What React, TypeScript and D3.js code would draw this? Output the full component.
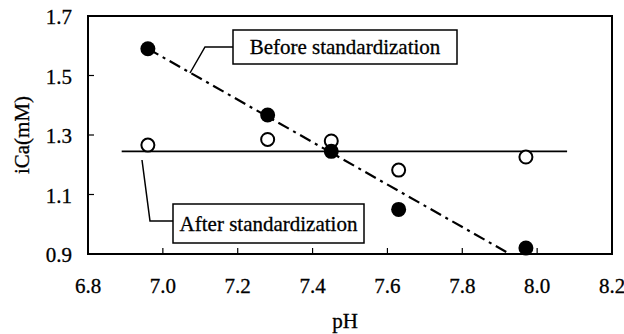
import React, { useEffect, useRef } from 'react';
import * as d3 from 'd3';

const phValues = [6.96, 7.28, 7.45, 7.63, 7.97];
const beforeValues = [1.59, 1.367, 1.245, 1.05, 0.92];
const afterValues = [1.266, 1.285, 1.28, 1.182, 1.226];
const xTicks = [6.8, 7.0, 7.2, 7.4, 7.6, 7.8, 8.0, 8.2];
const yTicks = [0.9, 1.1, 1.3, 1.5, 1.7];
// fitted lines drawn on the chart
const beforeFit = [
  { x: 6.96, y: 1.59 },
  { x: 7.92, y: 0.905 },
];
const afterFit = [
  { x: 6.89, y: 1.245 },
  { x: 8.08, y: 1.245 },
];

const W = 624;
const H = 334;
const margin = { top: 16, right: 12, bottom: 80, left: 88 };
const FONT = '"Liberation Serif", "Times New Roman", serif';
const FS = '21px';

const App: React.FC = () => {
  const svgRef = useRef<SVGSVGElement>(null);

  useEffect(() => {
    if (!svgRef.current) return;
    const svg = d3.select(svgRef.current);
    svg.selectAll('*').remove();

    const x = d3.scaleLinear().domain([6.8, 8.2]).range([margin.left, W - margin.right]);
    const y = d3.scaleLinear().domain([0.9, 1.7]).range([H - margin.bottom, margin.top]);

    const txt = (sel: d3.Selection<SVGTextElement, any, any, any>) =>
      sel
        .style('font-family', FONT)
        .style('font-size', FS)
        .style('fill', '#000')
        .style('stroke', '#000')
        .style('stroke-width', 0.3);

    // frame
    svg
      .append('rect')
      .attr('x', x(6.8))
      .attr('y', y(1.7))
      .attr('width', x(8.2) - x(6.8))
      .attr('height', y(0.9) - y(1.7))
      .attr('fill', 'none')
      .attr('stroke', '#000')
      .attr('stroke-width', 2);

    // y ticks
    const yAxis = svg.append('g').attr('transform', `translate(${x(6.8)},0)`);
    yAxis
      .selectAll('line')
      .data(yTicks)
      .enter()
      .append('line')
      .attr('x1', 0)
      .attr('x2', 6)
      .attr('y1', d => y(d))
      .attr('y2', d => y(d))
      .attr('stroke', '#000')
      .attr('stroke-width', 1.2);
    yAxis
      .selectAll('text')
      .data(yTicks)
      .enter()
      .append('text')
      .attr('x', -16)
      .attr('y', d => y(d))
      .attr('dy', '0.4em')
      .attr('text-anchor', 'end')
      .call(txt)
      .text(d => d.toFixed(1));

    // x ticks
    const xAxis = svg.append('g').attr('transform', `translate(0,${y(0.9)})`);
    xAxis
      .selectAll('line')
      .data(xTicks)
      .enter()
      .append('line')
      .attr('x1', d => x(d))
      .attr('x2', d => x(d))
      .attr('y1', 0)
      .attr('y2', -6)
      .attr('stroke', '#000')
      .attr('stroke-width', 1.2);
    xAxis
      .selectAll('text')
      .data(xTicks)
      .enter()
      .append('text')
      .attr('x', d => x(d))
      .attr('y', 39)
      .attr('text-anchor', 'middle')
      .call(txt)
      .text(d => d.toFixed(1));

    // axis titles
    svg
      .append('text')
      .attr('x', 345)
      .attr('y', 328)
      .attr('text-anchor', 'middle')
      .call(txt)
      .text('pH');
    svg
      .append('text')
      .attr('transform', `translate(29,${(y(0.9) + y(1.7)) / 2}) rotate(-90)`)
      .attr('text-anchor', 'middle')
      .call(txt)
      .text('iCa(mM)');

    const line = d3
      .line<{ x: number; y: number }>()
      .x(d => x(d.x))
      .y(d => y(d.y));

    svg
      .append('path')
      .attr('d', line(afterFit))
      .attr('fill', 'none')
      .attr('stroke', '#000')
      .attr('stroke-width', 1.8);

    svg
      .append('path')
      .attr('d', line(beforeFit))
      .attr('fill', 'none')
      .attr('stroke', '#000')
      .attr('stroke-width', 2.2)
      .attr('stroke-dasharray', '12,5,3,5');

    // points
    svg
      .selectAll('.after')
      .data(phValues)
      .enter()
      .append('circle')
      .attr('class', 'after')
      .attr('cx', d => x(d))
      .attr('cy', (d, i) => y(afterValues[i]))
      .attr('r', 6.5)
      .attr('fill', '#fff')
      .attr('stroke', '#000')
      .attr('stroke-width', 2);

    svg
      .selectAll('.before')
      .data(phValues)
      .enter()
      .append('circle')
      .attr('class', 'before')
      .attr('cx', d => x(d))
      .attr('cy', (d, i) => y(beforeValues[i]))
      .attr('r', 7.5)
      .attr('fill', '#000');

    // annotation: Before
    svg
      .append('path')
      .attr('d', 'M190,73 L205,47 L233,47')
      .attr('fill', 'none')
      .attr('stroke', '#000')
      .attr('stroke-width', 1.5);
    svg
      .append('rect')
      .attr('x', 233)
      .attr('y', 30)
      .attr('width', 224)
      .attr('height', 34)
      .attr('fill', '#fff')
      .attr('stroke', '#000')
      .attr('stroke-width', 1.5);
    svg
      .append('text')
      .attr('x', 345)
      .attr('y', 54)
      .attr('text-anchor', 'middle')
      .call(txt)
      .text('Before standardization');

    // annotation: After
    svg
      .append('path')
      .attr('d', 'M142,160 L150,221 L173,221')
      .attr('fill', 'none')
      .attr('stroke', '#000')
      .attr('stroke-width', 1.5);
    svg
      .append('rect')
      .attr('x', 173)
      .attr('y', 204)
      .attr('width', 191)
      .attr('height', 39)
      .attr('fill', '#fff')
      .attr('stroke', '#000')
      .attr('stroke-width', 1.5);
    svg
      .append('text')
      .attr('x', 268.5)
      .attr('y', 231)
      .attr('text-anchor', 'middle')
      .call(txt)
      .text('After standardization');
  }, []);

  return (
    <svg
      ref={svgRef}
      width={W}
      height={H}
      style={{ position: 'absolute', left: 0, top: 0, background: '#fff' }}
    />
  );
};

export default App;
